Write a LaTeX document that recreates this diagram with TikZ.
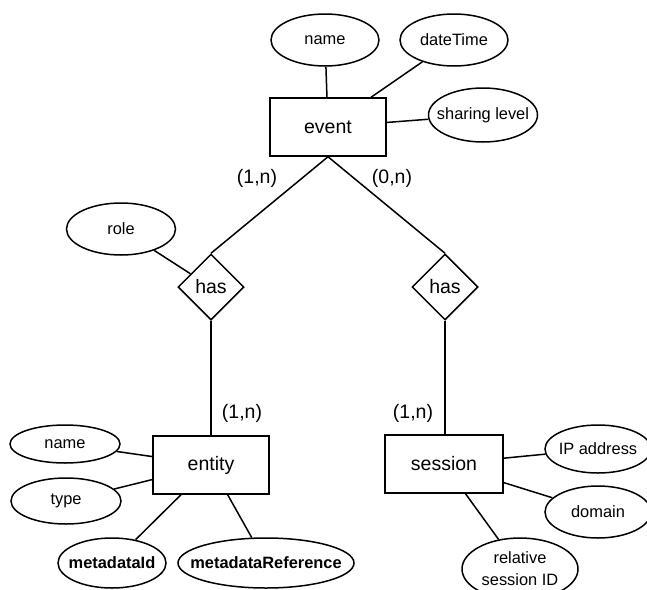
\documentclass[tikz,border=0pt]{standalone}
\usepackage{fontspec}
\setmainfont{Liberation Sans}
\usetikzlibrary{shapes.geometric}

\tikzset{
  every picture/.style={line width=1.5pt},
  entitybox/.style={draw, rectangle, minimum width=116pt, minimum height=58pt,
    inner sep=0pt, font=\fontsize{19.5}{22}\selectfont},
  relbox/.style={draw, diamond, aspect=1, minimum width=66pt, minimum height=66pt,
    inner sep=0pt, font=\fontsize{19.5}{22}\selectfont},
  % ellipse size is fixed by the minimum width/height; the negative
  % separation keeps the text from widening the outline
  attr/.style={draw, ellipse, inner xsep=-40pt, inner ysep=-12pt, align=center,
    font=\fontsize{16.4}{22}\selectfont},
  keyattr/.style={attr, font=\fontsize{16.4}{22}\selectfont\bfseries},
  card/.style={inner sep=0pt, font=\fontsize{19.5}{22}\selectfont},
  link/.style={draw, line width=1.5pt}
}

\begin{document}
\begin{tikzpicture}[x=1pt, y=-1pt]
  \clip (0,0) rectangle (647,589);

  % entities
  \node[entitybox] (event)   at (328,127) {event};
  \node[entitybox] (entity)  at (211,465) {entity};
  \node[entitybox, minimum width=118pt] (session) at (444,464) {session};

  % relationships
  \node[relbox] (hasL) at (211,287) {has};
  \node[relbox] (hasR) at (445,287) {has};

  % attributes of event
  \node[attr, minimum width=108pt, minimum height=52pt] (evname)  at (325,40)  {name};
  \node[attr, minimum width=108pt, minimum height=52pt] (evdate)  at (454,40)  {dateTime};
  \node[attr, minimum width=109pt, minimum height=54pt] (evshare) at (483,115) {sharing level};

  % attribute of the left relationship
  \node[attr, minimum width=109pt, minimum height=52pt] (role) at (121,229) {role};

  % attributes of entity
  \node[attr, minimum width=110pt, minimum height=38pt] (enname) at (65,444)  {name};
  \node[attr, minimum width=110pt, minimum height=46pt] (entype) at (66,501)  {type};
  \node[keyattr, minimum width=108pt, minimum height=50pt] (enmid)  at (112,563) {metadataId};
  \node[keyattr, minimum width=176pt, minimum height=50pt] (enmref) at (266,563) {metadataReference};

  % attributes of session
  \node[attr, minimum width=106pt, minimum height=48pt] (seip)  at (598,449) {IP address};
  \node[attr, minimum width=106pt, minimum height=52pt] (sedom) at (598,512) {domain};
  \node[attr, minimum width=116pt, minimum height=62pt] (serel) at (520,569) {relative\\session ID};

  % cardinalities
  \node[card] (c1) at (257,178) {(1,n)};
  \node[card] (c2) at (392,178) {(0,n)};
  \node[card] (c3) at (242,413) {(1,n)};
  \node[card] (c4) at (413,413) {(1,n)};

  % connectors
  \draw[link] (event.south) -- (hasL.north);
  \draw[link] (event.south) -- (hasR.north);
  \draw[link] (hasL.south) -- (entity.north);
  \draw[link] (hasR.south) -- (hasR.south |- session.north);

  \draw[link] (evname) -- (event);
  \draw[link] (evdate) -- (event);
  \draw[link] (evshare) -- (event);
  \draw[link] (role) -- (hasL);

  \draw[link] (enname) -- (entity);
  \draw[link] (entype) -- (entity);
  \draw[link] (enmid) -- (entity);
  \draw[link] (enmref) -- (entity);

  \draw[link] (seip) -- (session);
  \draw[link] (sedom) -- (session);
  \draw[link] (serel) -- (session);
\end{tikzpicture}
\end{document}
